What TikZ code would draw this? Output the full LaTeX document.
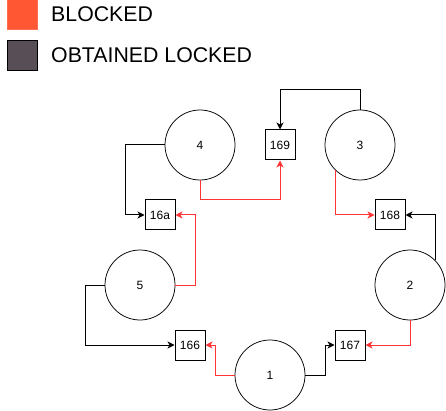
\documentclass[tikz,border=0pt]{standalone}
\usepackage{fontspec}
\setmainfont{Liberation Sans}
\usetikzlibrary{arrows.meta}
\definecolor{blk}{RGB}{255,87,51}
\definecolor{blkdraw}{RGB}{255,110,80}
\definecolor{obt}{RGB}{87,79,85}
\definecolor{redl}{RGB}{255,51,51}
\tikzset{
  proc/.style={circle,draw,line width=0.75pt,minimum size=70pt,inner sep=0pt,font=\fontsize{12pt}{14pt}\selectfont},
  res/.style={rectangle,draw,line width=1pt,minimum size=30pt,inner sep=0pt,font=\fontsize{12pt}{14pt}\selectfont},
  hold/.style={draw=black,line width=1pt,-{Stealth[length=7pt,width=7pt,inset=2pt]}},
  want/.style={draw=redl,line width=1pt,-{Stealth[length=7pt,width=7pt,inset=2pt]}},
  legtext/.style={anchor=west,inner sep=0pt,font=\fontsize{21.3pt}{24pt}\selectfont}
}
\begin{document}
\begin{tikzpicture}[x=1pt,y=-1pt]
\useasboundingbox (0,0) rectangle (446,411);
% legend
\node[draw=blkdraw,fill=blk,line width=1pt,minimum size=30pt,inner sep=0pt] (lb) at (22.5,15) {};
\node[draw=black,fill=obt,line width=1pt,minimum size=30pt,inner sep=0pt] (lo) at (22.5,55.5) {};
\node[legtext] (tb) at (51,14.5) {BLOCKED};
\node[legtext] (to) at (51,55) {OBTAINED LOCKED};
% processes
\node[proc] (p4) at (200,145) {4};
\node[proc] (p3) at (360,145) {3};
\node[proc] (p5) at (140,285) {5};
\node[proc] (p2) at (410,285) {2};
\node[proc] (p1) at (270,375) {1};
% resources
\node[res] (r169) at (280,145) {169};
\node[res] (r16a) at (160,215) {16a};
\node[res] (r168) at (390,215) {168};
\node[res] (r166) at (190,345) {166};
\node[res] (r167) at (350,345) {167};
% edges
\draw[hold] (p3.north) |- (280,90) -- (r169.north);
\draw[hold] (p4.west) -| (125.5,215) -- (r16a.west);
\draw[want] (p4.south) |- (280,200) -- (r169.south);
\draw[want] (p3.-134) |- (r168.west);
\draw[hold] (p2.45.5) |- (r168.east);
\draw[want] (p5.east) -| (195.5,215) -- (r16a.east);
\draw[hold] (p5.west) -| (85.5,345) -- (r166.west);
\draw[want] (p1.west) -| (215.5,345) -- (r166.east);
\draw[hold] (p1.east) -| (325.5,345) -- (r167.west);
\draw[want] (p2.south) |- (r167.east);
\end{tikzpicture}
\end{document}
